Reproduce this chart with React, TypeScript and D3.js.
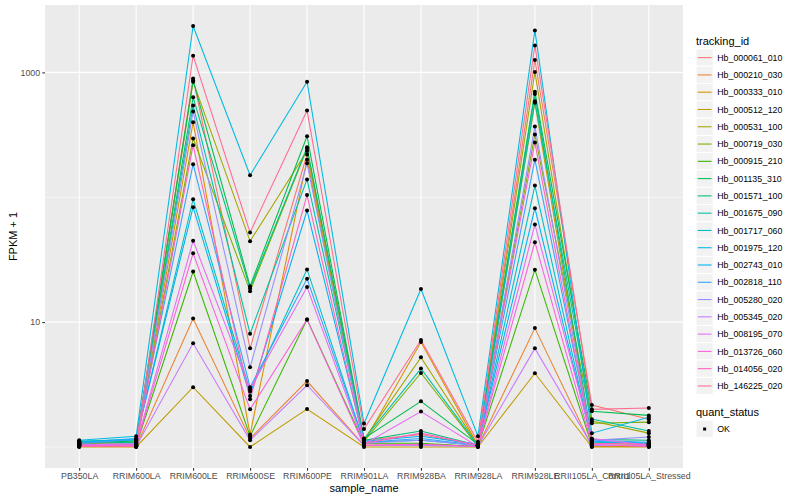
import { useEffect, useRef } from 'react'
import * as d3 from 'd3'

// x categories
const sampleNames = [
  'PB350LA', 'RRIM600LA', 'RRIM600LE', 'RRIM600SE', 'RRIM600PE', 'RRIM901LA',
  'RRIM928BA', 'RRIM928LA', 'RRIM928LE', 'RRII105LA_Control', 'RRII105LA_Stressed'
]

const trackingIds = [
  'Hb_000061_010', 'Hb_000210_030', 'Hb_000333_010', 'Hb_000512_120', 'Hb_000531_100',
  'Hb_000719_030', 'Hb_000915_210', 'Hb_001135_310', 'Hb_001571_100', 'Hb_001675_090',
  'Hb_001717_060', 'Hb_001975_120', 'Hb_002743_010', 'Hb_002818_110', 'Hb_005280_020',
  'Hb_005345_020', 'Hb_008195_070', 'Hb_013726_060', 'Hb_014056_020', 'Hb_146225_020'
]

// FPKM + 1, one array per tracking_id, in sampleNames order
const hb000061_010 = [1.09, 1.07, 895, 6.16, 220, 1.13, 1.26, 1.03, 1257, 2.17, 1.67]
const hb000210_030 = [1.03, 1.01, 10.7, 1.17, 3.37, 1.03, 1.05, 1.01, 8.95, 1.01, 1.01]
const hb000333_010 = [1.05, 1.03, 398, 1.26, 200, 1.09, 6.92, 1.03, 572, 1.07, 1.05]
const hb000512_120 = [1.0, 1.0, 3.01, 1.0, 2.01, 1.0, 1.0, 1.0, 3.89, 1.0, 1.0]
const hb000531_100 = [1.07, 1.05, 843, 44.5, 235, 1.15, 5.22, 1.03, 1007, 1.61, 1.29]
const hb000719_030 = [1.03, 1.03, 296, 17.7, 245, 1.11, 3.91, 1.01, 318, 1.55, 1.58]
const hb000915_210 = [1.05, 1.03, 25.4, 1.22, 10.5, 1.07, 1.07, 1.01, 26.3, 1.03, 1.03]
const hb001135_310 = [1.09, 1.11, 863, 19.4, 308, 1.17, 2.32, 1.05, 701, 1.93, 1.79]
const hb001571_100 = [1.07, 1.09, 631, 18.6, 251, 1.13, 1.34, 1.03, 672, 1.15, 1.13]
const hb001675_090 = [1.11, 1.13, 542, 8.07, 139, 1.15, 4.24, 1.03, 586, 1.67, 1.34]
const hb001717_060 = [1.11, 1.15, 96.4, 2.78, 26.4, 1.09, 1.13, 1.03, 124, 1.09, 1.07]
const hb001975_120 = [1.13, 1.22, 2350, 150, 843, 1.54, 18.4, 1.22, 2168, 1.29, 1.73]
const hb002743_010 = [1.09, 1.17, 83.2, 2.56, 78.3, 1.11, 1.22, 1.05, 81.7, 1.11, 1.07]
const hb002818_110 = [1.07, 1.15, 184, 3.01, 22.2, 1.09, 1.17, 1.03, 200, 1.13, 1.09]
const hb005280_020 = [1.03, 1.07, 485, 4.34, 187, 1.07, 1.13, 1.03, 368, 1.13, 1.2]
const hb005345_020 = [1.03, 1.01, 6.76, 1.13, 3.12, 1.03, 1.03, 1.01, 6.16, 1.03, 1.03]
const hb008195_070 = [1.05, 1.05, 44.8, 2.9, 19.1, 1.05, 1.92, 1.01, 60.5, 1.17, 1.03]
const hb013726_060 = [1.03, 1.03, 35.6, 2.0, 10.5, 1.03, 1.05, 1.01, 43.7, 1.05, 1.01]
const hb014056_020 = [1.01, 1.01, 261, 2.41, 104, 1.07, 1.29, 1.03, 275, 1.07, 1.05]
const hb146225_020 = [1.01, 1.01, 1360, 52.2, 494, 1.39, 7.18, 1.1, 1644, 2.0, 2.05]

const seriesValues = [
  hb000061_010, hb000210_030, hb000333_010, hb000512_120, hb000531_100,
  hb000719_030, hb000915_210, hb001135_310, hb001571_100, hb001675_090,
  hb001717_060, hb001975_120, hb002743_010, hb002818_110, hb005280_020,
  hb005345_020, hb008195_070, hb013726_060, hb014056_020, hb146225_020
]

const yTicks = [10, 1000]
const yMinor = [1, 100]
const statusLevels = ['OK']

// ggplot hue palette, 20 levels
const hueColors = [
  '#F8766D', '#EA8331', '#D89000', '#C09B00', '#A3A500', '#7CAE00', '#39B600', '#00BB4E',
  '#00BF7D', '#00C1A3', '#00BFC4', '#00BAE0', '#00B0F6', '#35A2FF', '#9590FF', '#C77CFF',
  '#E76BF3', '#FA62DB', '#FF62BC', '#FF6C91'
]

const FONT = '"Liberation Sans", Arial, Helvetica, sans-serif'

export default function App() {
  const svgRef = useRef<SVGSVGElement>(null)

  useEffect(() => {
    if (!svgRef.current) return
    const width = 800
    const height = 500
    const panel = { left: 45, right: 683, top: 5, bottom: 468 }

    const svg = d3.select(svgRef.current)
    svg.selectAll('*').remove()
    svg.attr('width', width).attr('height', height)

    svg.append('rect').attr('width', width).attr('height', height).attr('fill', '#FFFFFF')

    const x = d3.scalePoint<string>()
      .domain(sampleNames)
      .range([panel.left, panel.right])
      .padding(0.6)

    // log scale with ggplot's 5% expansion
    const all = seriesValues.flat()
    const lo = Math.log10(d3.min(all) as number)
    const hi = Math.log10(d3.max(all) as number)
    const pad = (hi - lo) * 0.05
    const y = d3.scaleLog()
      .domain([Math.pow(10, lo - pad), Math.pow(10, hi + pad)])
      .range([panel.bottom, panel.top])

    // panel
    svg.append('rect')
      .attr('x', panel.left)
      .attr('y', panel.top)
      .attr('width', panel.right - panel.left)
      .attr('height', panel.bottom - panel.top)
      .attr('fill', '#EBEBEB')

    // grid
    const grid = svg.append('g')
    grid.selectAll('line.minor')
      .data(yMinor)
      .enter()
      .append('line')
      .attr('x1', panel.left)
      .attr('x2', panel.right)
      .attr('y1', d => y(d))
      .attr('y2', d => y(d))
      .attr('stroke', '#FFFFFF')
      .attr('stroke-width', 0.55)
    grid.selectAll('line.major')
      .data(yTicks)
      .enter()
      .append('line')
      .attr('x1', panel.left)
      .attr('x2', panel.right)
      .attr('y1', d => y(d))
      .attr('y2', d => y(d))
      .attr('stroke', '#FFFFFF')
      .attr('stroke-width', 1.07)
    grid.selectAll('line.xmajor')
      .data(sampleNames)
      .enter()
      .append('line')
      .attr('x1', d => x(d) as number)
      .attr('x2', d => x(d) as number)
      .attr('y1', panel.top)
      .attr('y2', panel.bottom)
      .attr('stroke', '#FFFFFF')
      .attr('stroke-width', 1.07)

    // lines
    const line = d3.line<number>()
      .x((_, i) => x(sampleNames[i]) as number)
      .y(d => y(d))

    svg.append('g')
      .selectAll('path')
      .data(seriesValues)
      .enter()
      .append('path')
      .attr('d', d => line(d))
      .attr('fill', 'none')
      .attr('stroke', (_, i) => hueColors[i])
      .attr('stroke-width', 1.07)

    // points
    const pts = seriesValues.flatMap(vals => vals.map((v, i) => ({ s: sampleNames[i], v })))
    svg.append('g')
      .selectAll('circle')
      .data(pts)
      .enter()
      .append('circle')
      .attr('cx', d => x(d.s) as number)
      .attr('cy', d => y(d.v))
      .attr('r', 2)
      .attr('fill', '#000000')

    // y axis
    const yAxis = svg.append('g')
      .attr('transform', `translate(${panel.left},0)`)
      .call(d3.axisLeft(y).tickValues(yTicks).tickFormat(d3.format('d')).tickSize(2.75).tickPadding(2.2))
    yAxis.select('.domain').remove()
    yAxis.selectAll('line').attr('stroke', '#333333').attr('stroke-width', 1.07)
    yAxis.selectAll('text')
      .attr('fill', '#4D4D4D')
      .attr('font-size', 8.8)
      .attr('font-family', FONT)

    // x axis
    const xAxis = svg.append('g')
      .attr('transform', `translate(0,${panel.bottom})`)
      .call(d3.axisBottom(x).tickSize(2.75).tickPadding(2.2))
    xAxis.select('.domain').remove()
    xAxis.selectAll('line').attr('stroke', '#333333').attr('stroke-width', 1.07)
    xAxis.selectAll('text')
      .attr('fill', '#4D4D4D')
      .attr('font-size', 8.8)
      .attr('font-family', FONT)

    // axis titles
    svg.append('text')
      .attr('x', (panel.left + panel.right) / 2)
      .attr('y', 492)
      .attr('text-anchor', 'middle')
      .attr('font-size', 11)
      .attr('font-family', FONT)
      .attr('fill', '#000000')
      .text('sample_name')

    svg.append('text')
      .attr('transform', `translate(17,${(panel.top + panel.bottom) / 2}) rotate(-90)`)
      .attr('text-anchor', 'middle')
      .attr('font-size', 11)
      .attr('font-family', FONT)
      .attr('fill', '#000000')
      .text('FPKM + 1')

    // legend: tracking_id
    const lg = svg.append('g').attr('font-family', FONT)
    const keyX = 696
    const keyS = 17.28
    const firstKey = 49
    lg.append('text')
      .attr('x', keyX)
      .attr('y', 44.5)
      .attr('font-size', 11)
      .text('tracking_id')

    trackingIds.forEach((id, i) => {
      const ky = firstKey + i * keyS
      lg.append('rect')
        .attr('x', keyX)
        .attr('y', ky)
        .attr('width', keyS)
        .attr('height', keyS)
        .attr('fill', '#F2F2F2')
        .attr('stroke', '#FFFFFF')
        .attr('stroke-width', 1)
      lg.append('line')
        .attr('x1', keyX + 1.7)
        .attr('x2', keyX + keyS - 1.7)
        .attr('y1', ky + keyS / 2)
        .attr('y2', ky + keyS / 2)
        .attr('stroke', hueColors[i])
        .attr('stroke-width', 1.07)
      lg.append('text')
        .attr('x', keyX + keyS + 4)
        .attr('y', ky + keyS / 2 + 3.1)
        .attr('font-size', 8.8)
        .text(id)
    })

    // legend: quant_status
    lg.append('text')
      .attr('x', keyX)
      .attr('y', 416)
      .attr('font-size', 11)
      .text('quant_status')

    statusLevels.forEach((s, i) => {
      const ky = 420.4 + i * keyS
      lg.append('rect')
        .attr('x', keyX)
        .attr('y', ky)
        .attr('width', keyS)
        .attr('height', keyS)
        .attr('fill', '#F2F2F2')
        .attr('stroke', '#FFFFFF')
      lg.append('rect')
        .attr('x', keyX + keyS / 2 - 1.5)
        .attr('y', ky + keyS / 2 - 1.5)
        .attr('width', 3)
        .attr('height', 3)
        .attr('fill', '#000000')
      lg.append('text')
        .attr('x', keyX + keyS + 4)
        .attr('y', ky + keyS / 2 + 3.1)
        .attr('font-size', 8.8)
        .text(s)
    })
  }, [])

  return (
    <div style={{ position: 'absolute', left: 0, top: 0 }}>
      <svg ref={svgRef} style={{ display: 'block' }} />
    </div>
  )
}
